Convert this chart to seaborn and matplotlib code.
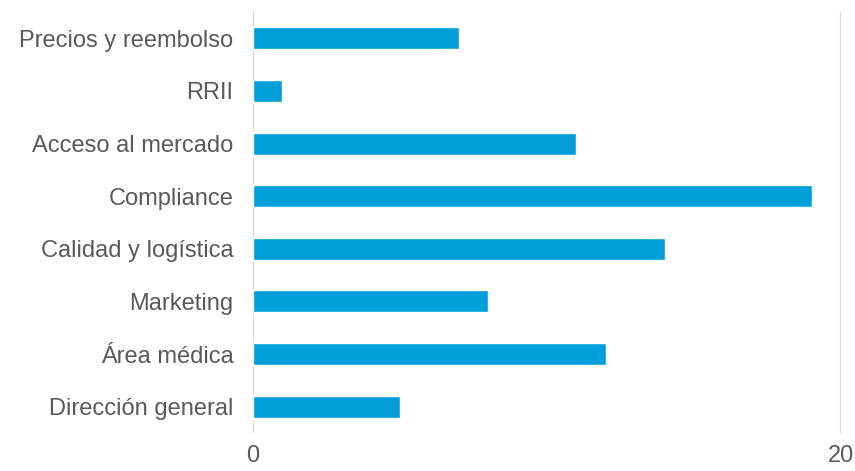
import pandas as pd
import matplotlib.pyplot as plt
import seaborn as sns

# Datos del grafico
areas = ['Precios y reembolso', 'RRII', 'Acceso al mercado', 'Compliance',
         'Calidad y logística', 'Marketing', 'Área médica', 'Dirección general']
valores = [7, 1, 11, 19, 14, 8, 12, 5]

df = pd.DataFrame({'area': areas, 'valor': valores})

sns.set_theme(style='white')
plt.rcParams['font.family'] = ['Liberation Sans', 'DejaVu Sans']

fig = plt.figure(figsize=(8.55, 4.71), dpi=100)
ax = fig.add_axes([253 / 855, 1 - 433 / 471, (841 - 253) / 855, (433 - 12) / 471])

sns.barplot(data=df, x='valor', y='area', color='#009FDA', saturation=1,
            width=0.42, ax=ax)

ax.set_xlim(0, 20)
ax.set_ylim(7.5, -0.5)
ax.set_xticks([0, 20])
ax.xaxis.grid(True, color='#D9D9D9', linewidth=1.6)
ax.set_axisbelow(True)
for s in ax.spines.values():
    s.set_visible(False)
ax.set_xlabel('')
ax.set_ylabel('')
ax.tick_params(axis='y', length=0, pad=14, labelsize=17, labelcolor='#595959')
ax.tick_params(axis='x', length=0, pad=9, labelsize=17, labelcolor='#595959')

fig.savefig('out.png', dpi=100)
